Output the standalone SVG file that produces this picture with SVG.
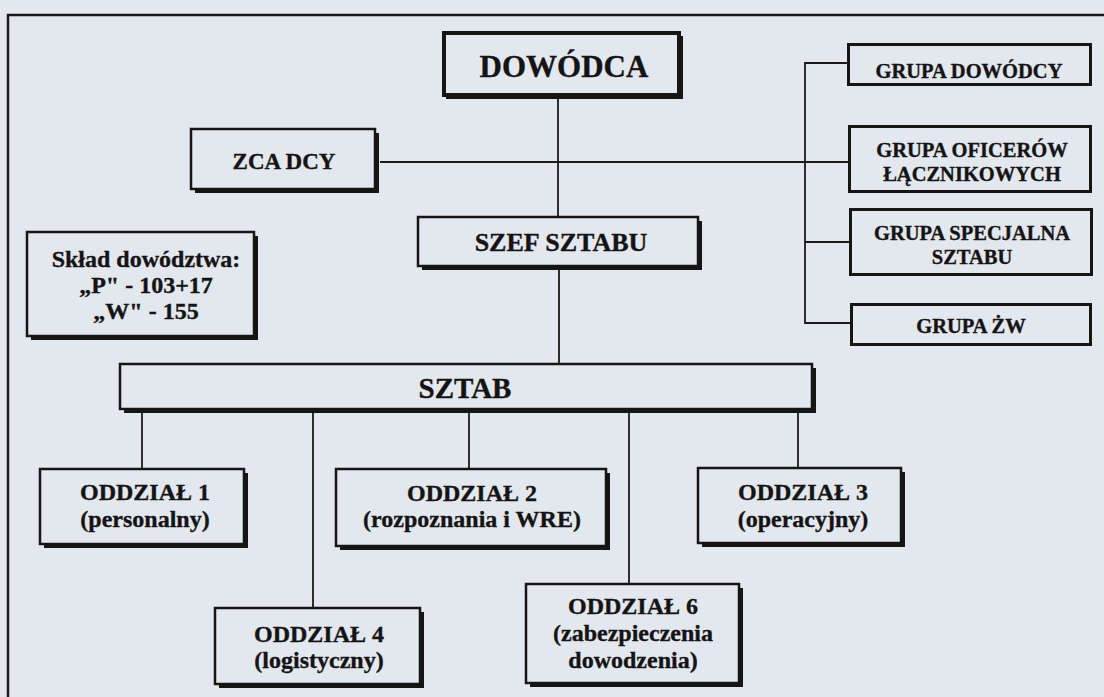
<svg xmlns="http://www.w3.org/2000/svg" width="1104" height="697" viewBox="0 0 1104 697">
  <style>
    .paper { fill: #e3e7ee; }
    .frame { stroke: #1a1a1a; stroke-width: 2.5; fill: none; }
    .box { fill: #e3e7ee; stroke: #151515; stroke-width: 2.5; }
    .grp { fill: #e3e7ee; stroke: #151515; stroke-width: 3; }
    .head { fill: #e3e7ee; stroke: #151515; stroke-width: 4; }
    .shadow { fill: #151515; }
    .wire { stroke: #1a1a1a; stroke-width: 1.8; fill: none; }
    text { font-family: "Liberation Serif", "Times New Roman", serif; font-weight: bold; fill: #141414; stroke: #141414; stroke-width: 0.35; text-anchor: middle; }
    .t31 { font-size: 31px; }
    .t29 { font-size: 29px; }
    .t26 { font-size: 26px; }
    .t24 { font-size: 24px; }
    .t23 { font-size: 23px; }
    .t20 { font-size: 20.5px; }
  </style>

  <!-- page background and frame -->
  <rect class="paper" x="0" y="0" width="1104" height="697"/>
  <path class="frame" d="M8 697 V15 H1104"/>

  <!-- connectors -->
  <g id="connectors">
    <!-- commander -> chief of staff -->
    <line class="wire" x1="558" y1="99" x2="558" y2="217"/>
    <!-- deputy line across to liaison group -->
    <line class="wire" x1="380" y1="162" x2="848" y2="162"/>
    <!-- bracket for the groups -->
    <path class="wire" d="M847 63 H805 V323 H850"/>
    <line class="wire" x1="805" y1="242" x2="849" y2="242"/>
    <!-- chief of staff -> staff -->
    <line class="wire" x1="559" y1="270" x2="559" y2="364"/>
    <!-- staff -> divisions -->
    <line class="wire" x1="142" y1="413" x2="142" y2="469"/>
    <line class="wire" x1="313" y1="413" x2="313" y2="608"/>
    <line class="wire" x1="469" y1="413" x2="469" y2="469"/>
    <line class="wire" x1="629" y1="413" x2="629" y2="584"/>
    <line class="wire" x1="798" y1="413" x2="798" y2="468"/>
  </g>

  <g id="dowodca">
    <rect class="shadow" x="446" y="36" width="237" height="63"/>
    <rect class="head" x="444" y="33" width="235" height="62"/>
    <text class="t31" x="564" y="77">DOWÓDCA</text>
  </g>

  <g id="zca-dcy">
    <rect class="shadow" x="195" y="133" width="184" height="60"/>
    <rect class="box" x="191" y="129" width="184" height="60"/>
    <text class="t23" x="284" y="169">ZCA DCY</text>
  </g>

  <g id="grupa-dowodcy">
    <rect class="shadow" x="850" y="46" width="242" height="40"/>
    <rect class="grp" x="848.5" y="44.5" width="242" height="40"/>
    <text class="t20" x="969" y="78">GRUPA DOWÓDCY</text>
  </g>

  <g id="grupa-oficerow">
    <rect class="shadow" x="851" y="128" width="241" height="65"/>
    <rect class="grp" x="849.5" y="126.5" width="241" height="65"/>
    <text class="t20" x="972" y="157">GRUPA OFICERÓW</text>
    <text class="t20" x="972" y="181">ŁĄCZNIKOWYCH</text>
  </g>

  <g id="grupa-specjalna">
    <rect class="shadow" x="852" y="211" width="241" height="65"/>
    <rect class="grp" x="850.5" y="209.5" width="241" height="65"/>
    <text class="t20" x="972" y="240">GRUPA SPECJALNA</text>
    <text class="t20" x="972" y="264">SZTABU</text>
  </g>

  <g id="grupa-zw">
    <rect class="shadow" x="853" y="306" width="239" height="40"/>
    <rect class="grp" x="851.5" y="304.5" width="239" height="40"/>
    <text class="t20" x="971" y="333">GRUPA ŻW</text>
  </g>

  <g id="szef-sztabu">
    <rect class="shadow" x="422" y="221" width="280" height="49"/>
    <rect class="box" x="418" y="217" width="280" height="49"/>
    <text class="t26" x="561" y="251">SZEF SZTABU</text>
  </g>

  <g id="sklad">
    <rect class="shadow" x="31" y="236" width="227" height="104"/>
    <rect class="box" x="27" y="232" width="227" height="104"/>
    <text class="t24" x="146" y="267">Skład dowództwa:</text>
    <text class="t24" x="146" y="293">„P" - 103+17</text>
    <text class="t24" x="146" y="319">„W" - 155</text>
  </g>

  <g id="sztab">
    <rect class="shadow" x="124" y="368" width="692" height="45"/>
    <rect class="box" x="120" y="364" width="692" height="45"/>
    <text class="t29" x="465" y="398">SZTAB</text>
  </g>

  <g id="oddzial-1">
    <rect class="shadow" x="44" y="473" width="204" height="75"/>
    <rect class="box" x="40" y="469" width="204" height="75"/>
    <text class="t24" x="145" y="500">ODDZIAŁ 1</text>
    <text class="t24" x="145" y="527">(personalny)</text>
  </g>

  <g id="oddzial-2">
    <rect class="shadow" x="340" y="473" width="270" height="77"/>
    <rect class="box" x="336" y="469" width="270" height="77"/>
    <text class="t24" x="472" y="501">ODDZIAŁ 2</text>
    <text class="t24" x="472" y="527">(rozpoznania i WRE)</text>
  </g>

  <g id="oddzial-3">
    <rect class="shadow" x="702" y="472" width="203" height="75"/>
    <rect class="box" x="698" y="468" width="203" height="75"/>
    <text class="t24" x="803" y="500">ODDZIAŁ 3</text>
    <text class="t24" x="803" y="527">(operacyjny)</text>
  </g>

  <g id="oddzial-4">
    <rect class="shadow" x="219" y="612" width="205" height="76"/>
    <rect class="box" x="215" y="608" width="205" height="76"/>
    <text class="t24" x="319" y="642">ODDZIAŁ 4</text>
    <text class="t24" x="319" y="668">(logistyczny)</text>
  </g>

  <g id="oddzial-6">
    <rect class="shadow" x="530" y="588" width="213" height="99"/>
    <rect class="box" x="526" y="584" width="213" height="99"/>
    <text class="t24" x="633" y="614">ODDZIAŁ 6</text>
    <text class="t24" x="633" y="641">(zabezpieczenia</text>
    <text class="t24" x="633" y="668">dowodzenia)</text>
  </g>
</svg>
